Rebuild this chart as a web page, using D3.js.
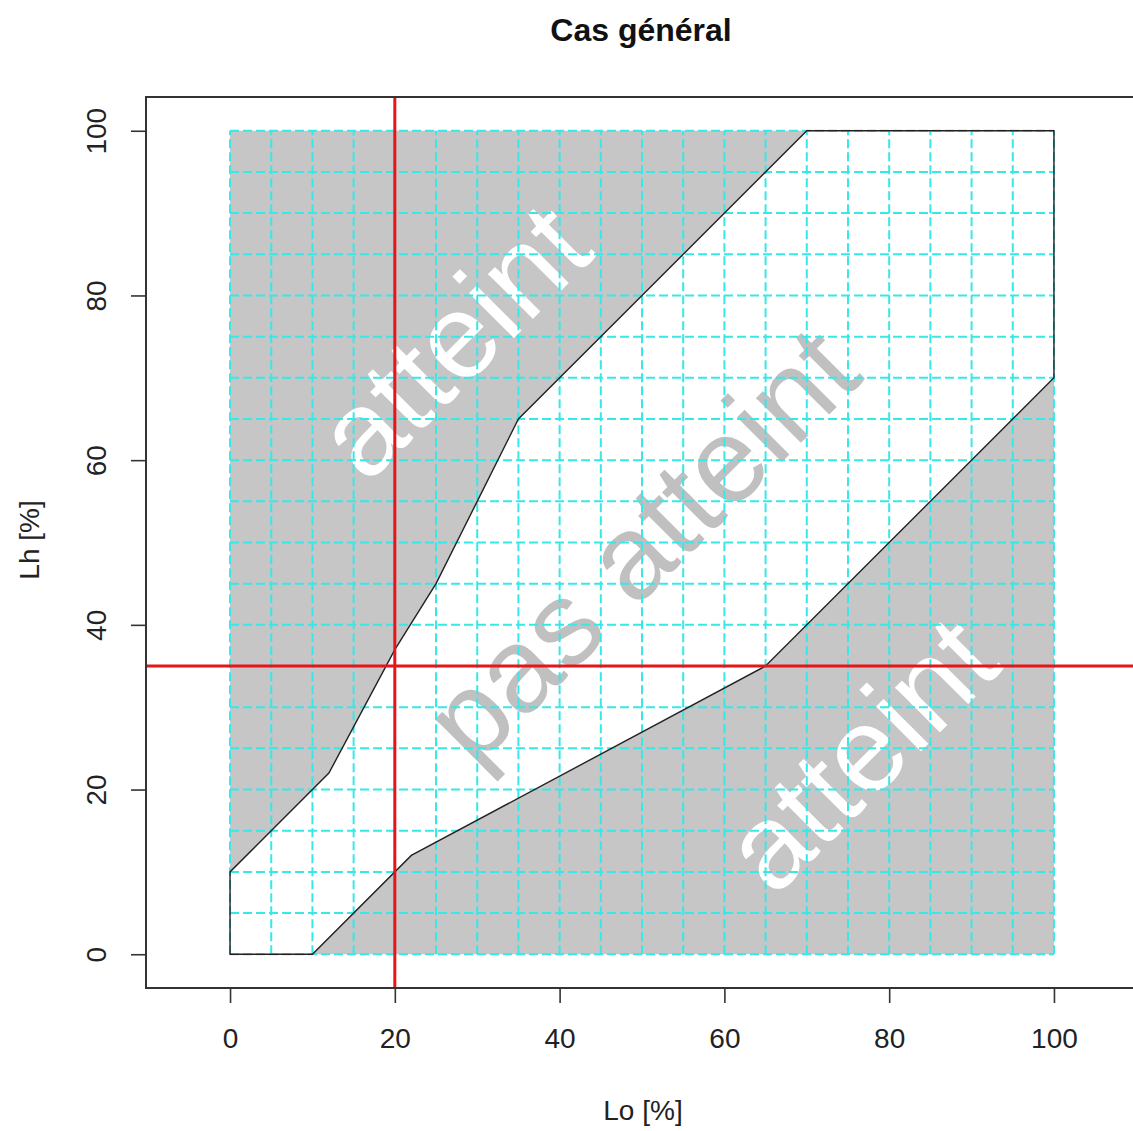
<!DOCTYPE html>
<html>
<head>
<meta charset="utf-8">
<style>
  body { margin: 0; background: #fff; }
  svg text { font-family: "Liberation Sans", Arial, sans-serif; }
  .axis text { font-size: 28px; fill: #222; }
  .axis line { stroke: #333; stroke-width: 1.6px; }
</style>
</head>
<body>
<svg id="chart" width="1133" height="1131"></svg>
<script src="https://d3js.org/d3.v7.min.js"></script>
<script>
// boundary of the "pas atteint" region (Lo, Lh in %)
var boundaryLo = [0, 10, 22, 65, 100, 100, 70, 50, 35, 30, 25, 20, 12, 0];
var boundaryLh = [0, 0, 12, 35, 70, 100, 100, 80, 65, 55, 45, 37, 22, 10];

// current point (red lines)
var seuilLo = 20;
var seuilLh = 35;

var xTicks = [0, 20, 40, 60, 80, 100];
var yTicks = [0, 20, 40, 60, 80, 100];
var gridVals = [0, 5, 10, 15, 20, 25, 30, 35, 40, 45, 50, 55, 60, 65, 70, 75, 80, 85, 90, 95, 100];

var zoneText = ["atteint", "pas atteint", "atteint"];
var zoneLo = [27.0, 49.8, 76.4];
var zoneLh = [74.6, 49.8, 24.4];
var zoneCol = ["#ffffff", "#c0c0c0", "#ffffff"];

var svg = d3.select("#chart");

var x = d3.scaleLinear().domain([-10.2, 110.2]).range([146, 1138]);
var y = d3.scaleLinear().domain([-4.1, 104.1]).range([988, 97]);

var pts = boundaryLo.map(function(d, i) { return [x(d), y(boundaryLh[i])]; });

// grey square = "atteint"
svg.append("rect")
    .attr("x", x(0)).attr("y", y(100))
    .attr("width", x(100) - x(0)).attr("height", y(0) - y(100))
    .attr("fill", "#c6c6c6");

svg.append("polygon")
    .attr("points", pts.join(" "))
    .attr("fill", "#fff");

svg.selectAll(".zone")
    .data(zoneText)
  .enter().append("text")
    .attr("class", "zone")
    .attr("transform", function(d, i) { return "translate(" + x(zoneLo[i]) + "," + y(zoneLh[i]) + ") rotate(-45)"; })
    .attr("text-anchor", "middle")
    .attr("dominant-baseline", "central")
    .attr("font-size", 120)
    .attr("fill", function(d, i) { return zoneCol[i]; })
    .text(function(d) { return d; });

// dashed cyan grid
var grid = svg.append("g")
    .attr("stroke", "#36e8e8")
    .attr("stroke-width", 2)
    .attr("stroke-dasharray", "9,4");
grid.selectAll(".gv").data(gridVals).enter().append("line")
    .attr("x1", function(d) { return x(d); }).attr("x2", function(d) { return x(d); })
    .attr("y1", y(0)).attr("y2", y(100));
grid.selectAll(".gh").data(gridVals).enter().append("line")
    .attr("y1", function(d) { return y(d); }).attr("y2", function(d) { return y(d); })
    .attr("x1", x(0)).attr("x2", x(100));

svg.append("polygon")
    .attr("points", pts.join(" "))
    .attr("fill", "none")
    .attr("stroke", "#222")
    .attr("stroke-width", 1.4);

// red lines
svg.append("line")
    .attr("x1", x(seuilLo)).attr("x2", x(seuilLo))
    .attr("y1", 97).attr("y2", 988)
    .attr("stroke", "#e8141b").attr("stroke-width", 3);
svg.append("line")
    .attr("x1", 146).attr("x2", 1138)
    .attr("y1", y(seuilLh)).attr("y2", y(seuilLh))
    .attr("stroke", "#e8141b").attr("stroke-width", 3);

// box
svg.append("rect")
    .attr("x", 146).attr("y", 97)
    .attr("width", 1138 - 146).attr("height", 988 - 97)
    .attr("fill", "none").attr("stroke", "#333").attr("stroke-width", 2);

var xAxis = svg.append("g")
    .attr("class", "axis")
    .attr("transform", "translate(0,988)")
    .call(d3.axisBottom(x).tickValues(xTicks).tickSize(15).tickPadding(25));
xAxis.select(".domain").remove();
xAxis.selectAll("text").attr("font-family", null).attr("font-size", null);

var yAxis = svg.append("g")
    .attr("class", "axis")
    .attr("transform", "translate(146,0)")
    .call(d3.axisLeft(y).tickValues(yTicks).tickSize(15));
yAxis.select(".domain").remove();
yAxis.selectAll("text")
    .attr("font-family", null).attr("font-size", null)
    .attr("x", null).attr("dy", null)
    .attr("text-anchor", "middle")
    .attr("transform", "translate(-40,0) rotate(-90)");

svg.append("text")
    .attr("x", 643).attr("y", 1120)
    .attr("text-anchor", "middle")
    .attr("font-size", 28).attr("fill", "#222")
    .text("Lo [%]");

svg.append("text")
    .attr("transform", "translate(39,540) rotate(-90)")
    .attr("text-anchor", "middle")
    .attr("font-size", 28).attr("fill", "#222")
    .text("Lh [%]");

svg.append("text")
    .attr("x", 641).attr("y", 41)
    .attr("text-anchor", "middle")
    .attr("font-size", 32).attr("font-weight", "bold").attr("fill", "#111")
    .text("Cas général");
</script>
</body>
</html>
